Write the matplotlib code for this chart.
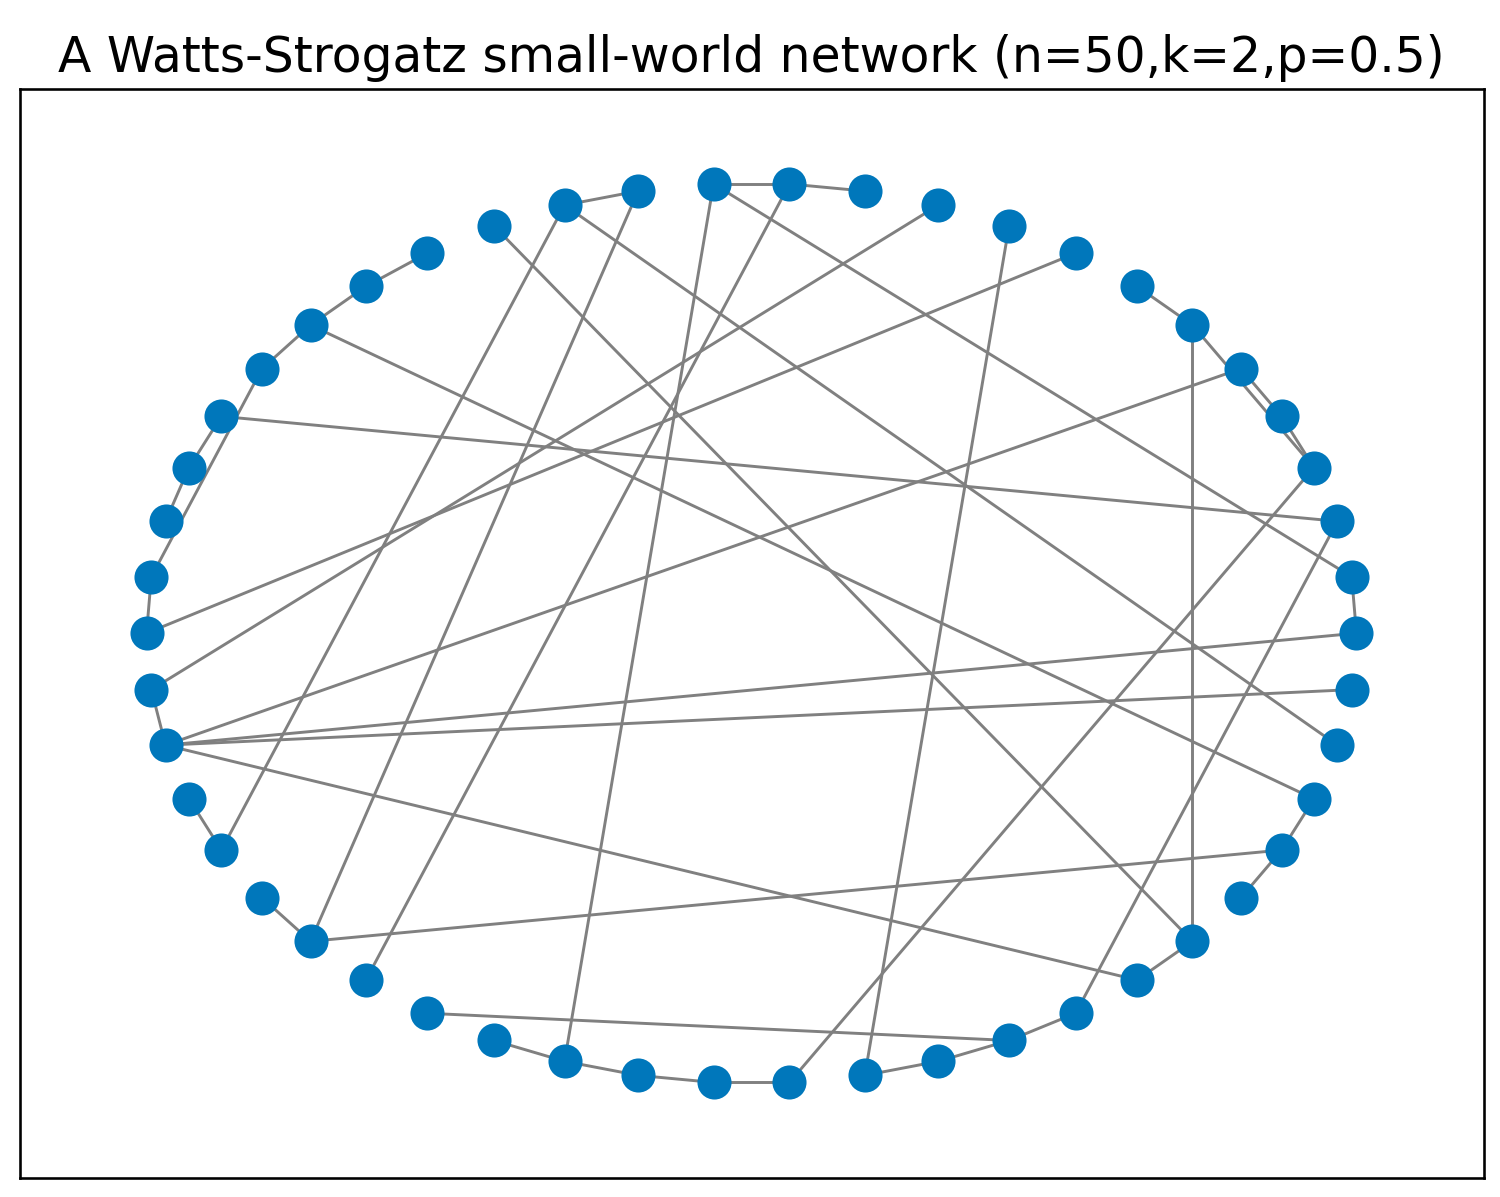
import numpy as np
import matplotlib
matplotlib.use("Agg")
import matplotlib.pyplot as plt

n_nodes = 50
edges = [(0,1),(1,13),(2,21),(3,4),(4,5),(6,7),(6,3),(6,44),(3,38),(2,42),
         (0,27),(49,27),(5,27),(8,25),(10,26),(9,39),(11,12),(12,13),(12,32),
         (13,35),(14,15),(14,31),(15,48),(15,29),(16,44),(17,18),(18,19),
         (19,47),(19,20),(20,24),(21,22),(22,23),(24,25),(26,27),(27,43),
         (28,29),(30,31),(31,46),(33,41),(34,35),(35,36),(36,37),(37,38),
         (39,40),(40,41),(41,42),(43,44),(45,46),(46,47)]

ang = 2*np.pi*np.arange(n_nodes)/n_nodes
px, py = np.cos(ang), np.sin(ang)

fig = plt.figure(figsize=(1500/234, 1197/234), dpi=234)
ax = fig.add_axes([0.013, 0.016, 0.976, 0.91])
for a, b in edges:
    ax.plot([px[a], px[b]], [py[a], py[b]], color='gray', lw=0.9, zorder=1)
ax.scatter(px, py, s=110, color='#0077bb', zorder=2, linewidths=0)
ax.set_xlim(-1.21, 1.21)
ax.set_ylim(-1.21, 1.21)
ax.set_xticks([]); ax.set_yticks([])
ax.set_title("A Watts-Strogatz small-world network (n=50,k=2,p=0.5)", fontsize=15, pad=5)
fig.savefig("out.png", dpi=234)
